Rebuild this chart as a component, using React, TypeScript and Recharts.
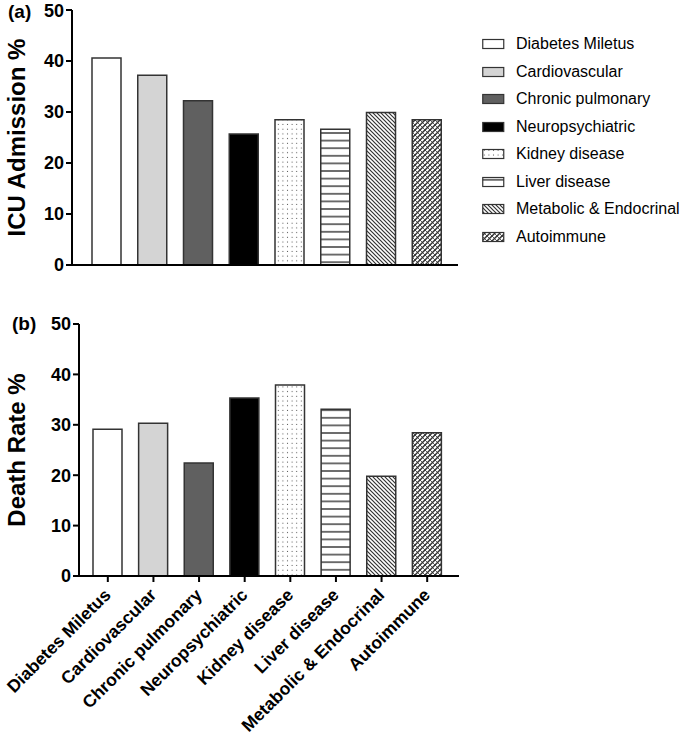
import React from 'react';
import { Bar, BarChart, Cell, XAxis, YAxis } from 'recharts';

const categories = [
  'Diabetes Miletus',
  'Cardiovascular',
  'Chronic pulmonary',
  'Neuropsychiatric',
  'Kidney disease',
  'Liver disease',
  'Metabolic & Endocrinal',
  'Autoimmune',
];
const icuAdmission = [40.6, 37.2, 32.2, 25.7, 28.5, 26.6, 29.9, 28.5];
const deathRate = [29.1, 30.3, 22.4, 35.3, 37.9, 33.1, 19.8, 28.4];
const yTicks = [0, 10, 20, 30, 40, 50];

const fills = [
  '#ffffff',
  '#d4d4d4',
  '#606060',
  '#000000',
  'url(#pat-dots)',
  'url(#pat-hlines)',
  'url(#pat-diag)',
  'url(#pat-cross)',
];

const FONT = '"Liberation Sans", Arial, Helvetica, sans-serif';

const icuData = categories.map((name, i) => ({ name, value: icuAdmission[i] }));
const deathData = categories.map((name, i) => ({ name, value: deathRate[i] }));

const Patterns = () => (
  <svg width={0} height={0} style={{ position: 'absolute' }}>
    <defs>
      <pattern id="pat-dots" patternUnits="userSpaceOnUse" width={4.6} height={4.7}>
        <rect width={4.6} height={4.7} fill="#fff" />
        <rect x={1.8} y={1.8} width={1} height={1} fill="#555" />
      </pattern>
      <pattern id="pat-hlines" patternUnits="userSpaceOnUse" width={8} height={7.6}>
        <rect width={8} height={7.6} fill="#fff" />
        <line x1={0} y1={3.8} x2={8} y2={3.8} stroke="#333" strokeWidth={1.4} />
      </pattern>
      <pattern id="pat-diag" patternUnits="userSpaceOnUse" width={4} height={4}>
        <rect width={4} height={4} fill="#fff" />
        <path d="M0,0 L4,4 M-1,3 L1,5 M3,-1 L5,1" stroke="#333" strokeWidth={1.2} />
      </pattern>
      <pattern id="pat-cross" patternUnits="userSpaceOnUse" width={5} height={5}>
        <rect width={5} height={5} fill="#fff" />
        <path d="M0,5 L5,0 M-1,1 L1,-1 M4,6 L6,4" stroke="#333" strokeWidth={1.5} />
        <path d="M0,0 L5,5" stroke="#333" strokeWidth={0.8} />
      </pattern>
    </defs>
  </svg>
);

const yLabel = (text: string) => (props: any) => {
  const vb = props.viewBox || {};
  const cx = 16;
  const cy = (vb.y ?? 0) + (vb.height ?? 0) / 2;
  return (
    <text
      x={cx}
      y={cy}
      transform={`rotate(-90, ${cx}, ${cy})`}
      textAnchor="middle"
      dominantBaseline="central"
      fontFamily={FONT}
      fontWeight="bold"
      fontSize={24}
      fill="#000"
    >
      {text}
    </text>
  );
};

const RotatedTick = (props: any) => {
  const { x, y, payload } = props;
  const ax = x + 4;
  const ay = y + 12;
  return (
    <text
      x={ax}
      y={ay}
      transform={`rotate(-45, ${ax}, ${ay})`}
      textAnchor="end"
      fontFamily={FONT}
      fontWeight="bold"
      fontSize={17.5}
      fill="#000"
    >
      {payload.value}
    </text>
  );
};

const tickStyle = { fontFamily: FONT, fontWeight: 'bold', fontSize: 18, fill: '#000' };
const axisStroke = { stroke: '#000', strokeWidth: 2 };

const App: React.FC = () => {
  return (
    <div style={{ position: 'absolute', left: 0, top: 0, width: 685, height: 754, background: '#fff', fontFamily: FONT }}>
      <Patterns />

      <div style={{ position: 'absolute', left: 8, top: 1, fontWeight: 'bold', fontSize: 19 }}>(a)</div>
      <div style={{ position: 'absolute', left: 12, top: 313, fontWeight: 'bold', fontSize: 19 }}>(b)</div>

      <div style={{ position: 'absolute', left: 0, top: 0 }}>
        <BarChart width={685} height={295} data={icuData} margin={{ top: 10, right: 227, bottom: 0, left: 0 }}>
          <XAxis
            dataKey="name"
            height={30}
            padding={{ left: 12, right: 8 }}
            tick={false}
            axisLine={axisStroke}
            tickLine={axisStroke}
            tickSize={6}
            interval={0}
          />
          <YAxis
            width={72}
            domain={[0, 50]}
            ticks={yTicks}
            tick={tickStyle}
            axisLine={axisStroke}
            tickLine={axisStroke}
            tickSize={6}
            tickMargin={2}
            label={yLabel('ICU Admission %')}
          />
          <Bar dataKey="value" barSize={29} stroke="#333" strokeWidth={1.5} isAnimationActive={false}>
            {icuData.map((d, i) => (
              <Cell key={d.name} fill={fills[i]} />
            ))}
          </Bar>
        </BarChart>
      </div>

      <div style={{ position: 'absolute', left: 482, top: 0 }}>
        {categories.map((name, i) => {
          const cy = 44 + 27.5 * i;
          return (
            <div key={name} style={{ position: 'absolute', left: 0, top: cy - 10, height: 20, display: 'flex', alignItems: 'center', whiteSpace: 'nowrap' }}>
              <svg width={24} height={12} style={{ display: 'block' }}>
                <rect x={0.75} y={1.5} width={21} height={9} fill={fills[i]} stroke="#333" strokeWidth={1.2} />
              </svg>
              <span style={{ marginLeft: 10, fontSize: 16, color: '#000' }}>{name}</span>
            </div>
          );
        })}
      </div>

      <div style={{ position: 'absolute', left: 0, top: 300 }}>
        <BarChart width={470} height={454} data={deathData} margin={{ top: 24, right: 11, bottom: 0, left: 0 }}>
          <XAxis
            dataKey="name"
            height={178}
            padding={{ left: 6, right: 9 }}
            tick={<RotatedTick />}
            axisLine={axisStroke}
            tickLine={axisStroke}
            tickSize={6}
            interval={0}
          />
          <YAxis
            width={79}
            domain={[0, 50]}
            ticks={yTicks}
            tick={tickStyle}
            axisLine={axisStroke}
            tickLine={axisStroke}
            tickSize={6}
            tickMargin={2}
            label={yLabel('Death Rate %')}
          />
          <Bar dataKey="value" barSize={29} stroke="#333" strokeWidth={1.5} isAnimationActive={false}>
            {deathData.map((d, i) => (
              <Cell key={d.name} fill={fills[i]} />
            ))}
          </Bar>
        </BarChart>
      </div>
    </div>
  );
};

export default App;
